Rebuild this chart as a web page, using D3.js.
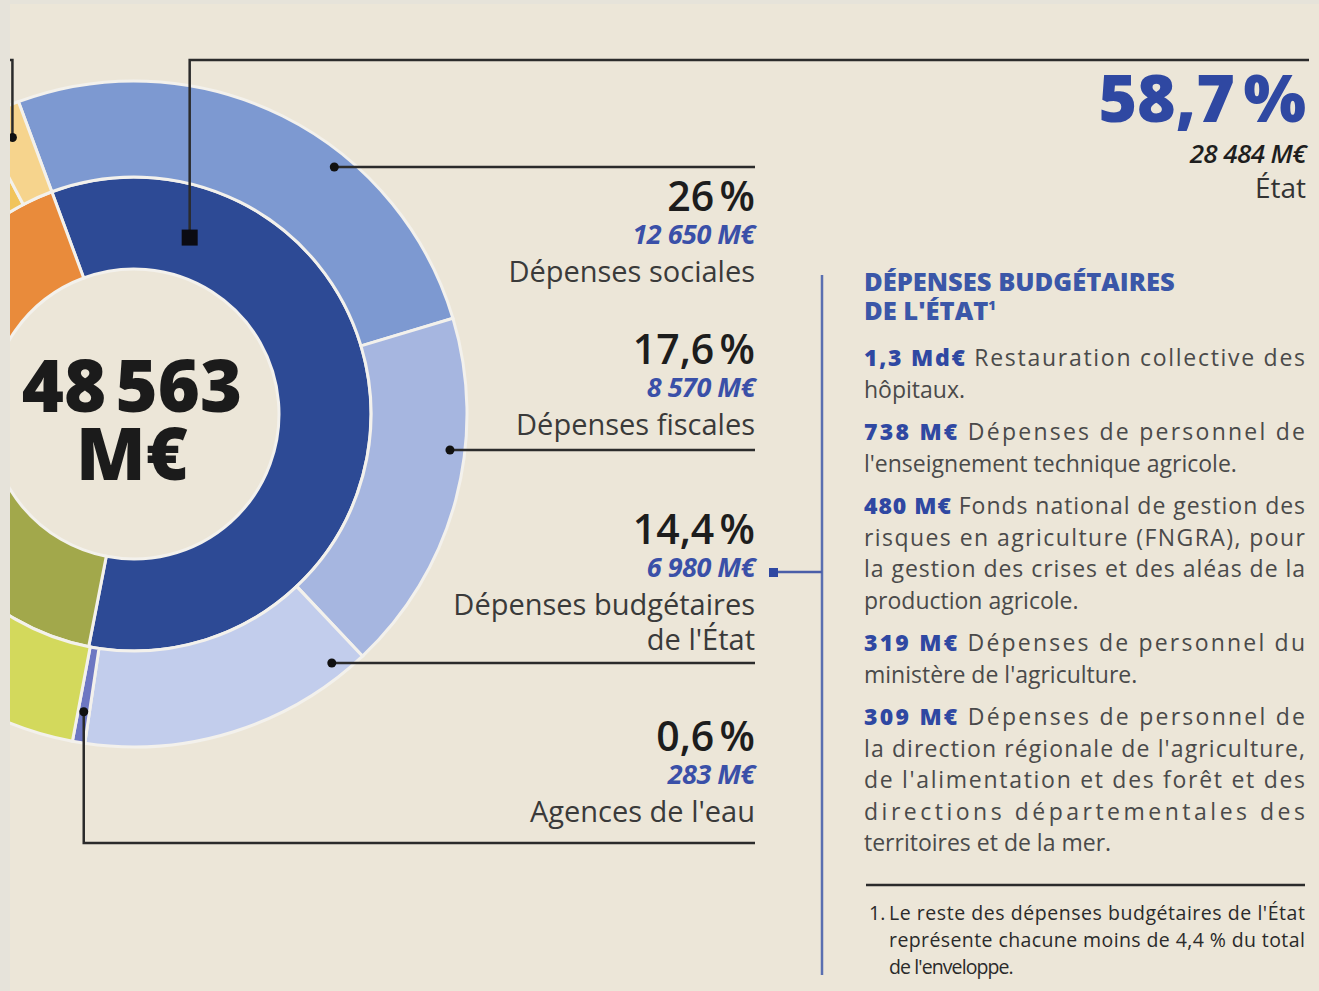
<!DOCTYPE html>
<html>
<head>
<meta charset="utf-8">
<script src="https://cdn.jsdelivr.net/npm/d3@7"></script>
<style>
  body { margin: 0; background: #e6e3da; }
  svg text { font-family: "Open Sans", "Noto Sans", sans-serif; }
</style>
</head>
<body>
<svg id="chart" width="1319" height="991"></svg>
<script>
// ---- Data ----
const total = 48563;

// inner ring: financers (only État is labelled, the others are cut off on the left)
const innerKeys = ["État", "autre financeur 1", "autre financeur 2"];
const innerShares = [58.7, 22.0, 19.3];
const innerColors = ["#2d4a95", "#a2a84b", "#e98b3b"];
const etatAmount = 28484;

// outer ring: breakdown of each financer
const outerKeys = ["Dépenses sociales", "Dépenses fiscales", "Dépenses budgétaires de l'État",
  "Agences de l'eau", "autre 1", "autre 2", "autre 3"];
const outerShares = [26, 17.6, 14.4, 0.6, 22.1, 17.2, 2.1];
const outerAmounts = [12650, 8570, 6980, 283];
const outerColors = ["#7d99d1", "#a6b6e0", "#c2cdec", "#6d77c2", "#d3d95c", "#f1c45a", "#f6d48d"];
const outerLabelLines = [["Dépenses sociales"], ["Dépenses fiscales"],
  ["Dépenses budgétaires", "de l'État"], ["Agences de l'eau"]];

// detail of the État budget (amounts in M€)
const detailAmounts = [1300, 738, 480, 319, 309];
const detailLines = [
  ["Restauration collective des", "hôpitaux."],
  ["Dépenses de personnel de", "l'enseignement technique agricole."],
  ["Fonds national de gestion des", "risques en agriculture (FNGRA), pour",
    "la gestion des crises et des aléas de la", "production agricole."],
  ["Dépenses de personnel du", "ministère de l'agriculture."],
  ["Dépenses de personnel de", "la direction régionale de l'agriculture,",
    "de l'alimentation et des forêt et des", "directions départementales des",
    "territoires et de la mer."]
];
const footnoteLines = ["Le reste des dépenses budgétaires de l'État",
  "représente chacune moins de 4,4 % du total", "de l'enveloppe."];

// ---- Layout ----
const cx = 134, cy = 414;
const rHole = 145, rMid = 237, rOuter = 333;
const startAngle = -20.3 * Math.PI / 180;
const labelRight = 755;
const ink = "#2b2b2b";
const blue = "#2f48a2";

const fr = d3.formatLocale({ decimal: ",", thousands: "\u202F", grouping: [3], currency: ["", " M€"] });
const fmtInt = fr.format(",d");
const fmtPct = v => fr.format(",")(v) + "\u202F%";
const fmtSpaced = v => fmtInt(v).replace(/\u202F/g, " ") + " M€";
const fmtAmount = v => v >= 1000 ? fr.format(",.1f")(v / 1000) + " Md€" : fmtInt(v) + " M€";

// spread a line to the column width, the way the justified text does
function justify(node, width) {
  const base = +node.getAttribute("letter-spacing") || 0;
  const w = node.getComputedTextLength();
  const n = node.textContent.length;
  if (n > 1) d3.select(node).attr("letter-spacing", base + (width - w) / (n - 1));
}

function draw() {
  const svg = d3.select("#chart");

  // panel background
  svg.append("rect").attr("x", 10).attr("y", 4).attr("width", 1309).attr("height", 987)
    .attr("fill", "#ece6d8");

  svg.append("defs").append("clipPath").attr("id", "panel-clip")
    .append("rect").attr("x", 10).attr("y", 4).attr("width", 1309).attr("height", 987);

  const donut = svg.append("g").attr("clip-path", "url(#panel-clip)")
    .append("g").attr("transform", `translate(${cx},${cy})`);

  const pie = d3.pie().sort(null).value(d => d)
    .startAngle(startAngle).endAngle(startAngle + 2 * Math.PI);

  const innerArc = d3.arc().innerRadius(rHole).outerRadius(rMid);
  const outerArc = d3.arc().innerRadius(rMid).outerRadius(rOuter);

  const innerPie = pie(innerShares);
  const outerPie = pie(outerShares);

  donut.selectAll("path.inner").data(innerPie).enter().append("path")
    .attr("class", "inner")
    .attr("d", innerArc)
    .attr("fill", (d, i) => innerColors[i])
    .attr("stroke", "#f3f1ec").attr("stroke-width", 3);

  donut.selectAll("path.outer").data(outerPie).enter().append("path")
    .attr("class", "outer")
    .attr("d", outerArc)
    .attr("fill", (d, i) => outerColors[i])
    .attr("stroke", "#f3f1ec").attr("stroke-width", 3);

  // centre total
  donut.append("text").attr("text-anchor", "middle").attr("x", -2).attr("y", -2)
    .attr("font-weight", 800).attr("font-size", 72).attr("fill", "#1b1b1b")
    .text(fmtInt(total));
  donut.append("text").attr("text-anchor", "middle").attr("x", -2).attr("y", 66)
    .attr("font-weight", 800).attr("font-size", 72).attr("fill", "#1b1b1b")
    .text("M€");

  // leader for the cut-off label at the top left (light yellow outer slice)
  const hidden = outerPie[6];
  const hAng = hidden.endAngle - 0.06;
  const hx = cx + 302 * Math.sin(hAng), hy = cy - 302 * Math.cos(hAng);
  const lead = svg.append("g").attr("clip-path", "url(#panel-clip)");
  lead.append("path").attr("d", `M${hx},${hy}V60H0`).attr("fill", "none")
    .attr("stroke", ink).attr("stroke-width", 2.5);
  lead.append("circle").attr("cx", hx).attr("cy", hy).attr("r", 4.5).attr("fill", "#111");

  // État leader (inner ring)
  const etat = innerPie[0];
  const eAng = etat.startAngle + 0.66;
  const ex = cx + 185 * Math.sin(eAng), ey = cy - 185 * Math.cos(eAng);
  svg.append("path").attr("d", `M${ex},${ey}V60H1309`).attr("fill", "none")
    .attr("stroke", ink).attr("stroke-width", 2.5);
  svg.append("rect").attr("x", ex - 8).attr("y", ey - 8).attr("width", 16).attr("height", 16)
    .attr("fill", "#0b0b12");

  const etatLabel = svg.append("g").attr("text-anchor", "end");
  etatLabel.append("text").attr("x", 1306).attr("y", 122)
    .attr("font-size", 66).attr("font-weight", 800).attr("fill", blue)
    .attr("letter-spacing", -1).text(fmtPct(innerShares[0]));
  etatLabel.append("text").attr("x", 1306).attr("y", 163)
    .attr("font-size", 26).attr("font-weight", 600).attr("font-style", "italic")
    .attr("fill", "#1e1e1e").attr("letter-spacing", -0.6).text(fmtSpaced(etatAmount));
  etatLabel.append("text").attr("x", 1306).attr("y", 198)
    .attr("font-size", 28).attr("fill", "#333").text(innerKeys[0]);

  // outer ring labels for the État breakdown
  const rowLineY = [167, 450, 663, 843];
  const rowPctY = [211, 364, 544, 751];
  const rDot = 318;

  outerAmounts.forEach((amt, i) => {
    const seg = outerPie[i];
    const ly = rowLineY[i];
    let dx, dy, path;
    if (i < 3) {
      const off = ly - cy;
      dx = cx + Math.sqrt(rDot * rDot - off * off);
      dy = ly;
      path = `M${dx},${dy}H${labelRight}`;
    } else {
      const a = (seg.startAngle + seg.endAngle) / 2;
      dx = cx + 302 * Math.sin(a);
      dy = cy - 302 * Math.cos(a);
      path = `M${dx},${dy}V${ly}H${labelRight}`;
    }
    svg.append("path").attr("d", path).attr("fill", "none")
      .attr("stroke", ink).attr("stroke-width", 2.5);
    svg.append("circle").attr("cx", dx).attr("cy", dy).attr("r", 4.5).attr("fill", "#111");

    const g = svg.append("g").attr("text-anchor", "end");
    const py = rowPctY[i];
    g.append("text").attr("x", labelRight).attr("y", py)
      .attr("font-size", 41).attr("font-weight", 600).attr("fill", "#1d1d1d")
      .text(fmtPct(outerShares[i]));
    g.append("text").attr("x", labelRight).attr("y", py + 33)
      .attr("font-size", 27).attr("font-weight", 700).attr("font-style", "italic")
      .attr("fill", "#3a50a8").attr("letter-spacing", -0.5).text(fmtSpaced(amt));
    outerLabelLines[i].forEach((line, j) => {
      g.append("text").attr("x", labelRight).attr("y", py + 71 + j * 35)
        .attr("font-size", 29).attr("fill", "#3a3a3a").text(line);
    });
  });

  // connector from the budget label to the detail column
  svg.append("line").attr("x1", 822).attr("x2", 822).attr("y1", 275).attr("y2", 975)
    .attr("stroke", "#5a6fb0").attr("stroke-width", 2.5);
  svg.append("line").attr("x1", 776).attr("x2", 822).attr("y1", 572).attr("y2", 572)
    .attr("stroke", "#4a5ea8").attr("stroke-width", 2.5);
  svg.append("rect").attr("x", 769).attr("y", 568).attr("width", 9).attr("height", 9)
    .attr("fill", blue);

  // detail column
  const colX = 864, colW = 441;
  const head = svg.append("text").attr("font-size", 25.5).attr("font-weight", 800)
    .attr("fill", "#3b57a8").attr("letter-spacing", 0);
  head.append("tspan").attr("x", colX).attr("y", 291).text("DÉPENSES BUDGÉTAIRES");
  head.append("tspan").attr("x", colX).attr("y", 320).text("DE L'ÉTAT");
  head.append("tspan").attr("dy", -10).attr("font-size", 13).text("1");

  let y = 366;
  detailLines.forEach((lines, p) => {
    lines.forEach((line, j) => {
      const t = svg.append("text").attr("x", colX).attr("y", y)
        .attr("font-size", 23).attr("fill", "#4a4a4a");
      if (j === 0) {
        t.append("tspan").attr("font-weight", 800).attr("fill", blue)
          .text(fmtAmount(detailAmounts[p]) + " ");
      }
      t.append("tspan").text(line);
      if (j < lines.length - 1) justify(t.node(), colW);
      y += 31.5;
    });
    y += 11;
  });

  // footnote
  svg.append("line").attr("x1", 866).attr("x2", 1305).attr("y1", 885).attr("y2", 885)
    .attr("stroke", ink).attr("stroke-width", 2.5);
  svg.append("text").attr("x", 869).attr("y", 920).attr("font-family", "Roboto")
    .attr("font-size", 19.5).attr("font-weight", 500).attr("fill", "#2a2a2a").text("1.");
  footnoteLines.forEach((line, j) => {
    const t = svg.append("text").attr("x", 889).attr("y", 920 + j * 27)
      .attr("font-family", "Roboto").attr("font-size", 19.5).attr("font-weight", 500)
      .attr("fill", "#2a2a2a").attr("letter-spacing", -0.9).text(line);
    if (j < footnoteLines.length - 1) justify(t.node(), 1304 - 889);
  });
}

document.fonts.ready.then(draw);
</script>
</body>
</html>
